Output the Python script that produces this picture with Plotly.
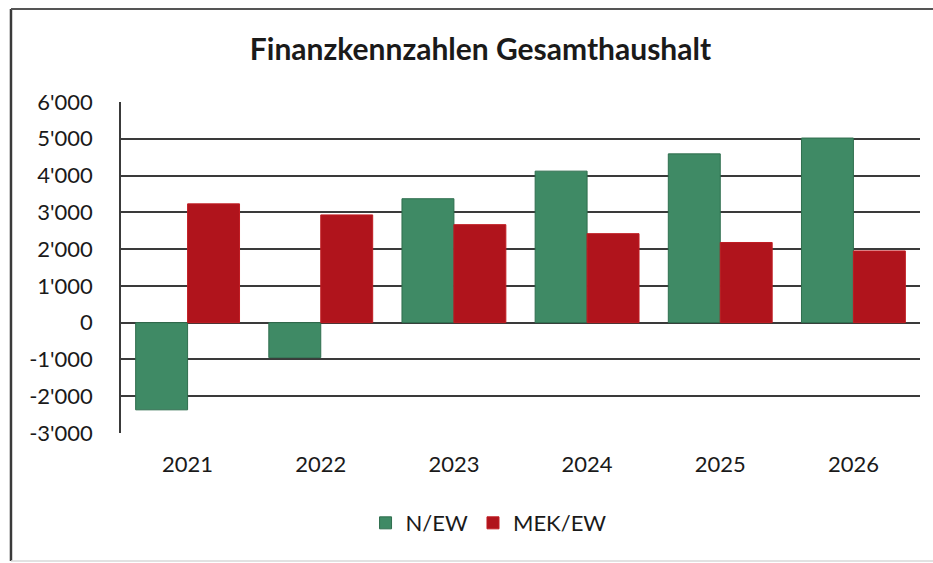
import plotly.graph_objects as go

years = ["2021", "2022", "2023", "2024", "2025", "2026"]
n_ew = [-2370, -950, 3370, 4120, 4590, 5020]
mek_ew = [3230, 2930, 2665, 2420, 2180, 1950]
ytick_vals = [6000, 5000, 4000, 3000, 2000, 1000, 0, -1000, -2000, -3000]
ytick_text = ["6'000", "5'000", "4'000", "3'000", "2'000", "1'000", "0", "-1'000", "-2'000", "-3'000"]

FONT = "Lato"
fig = go.Figure()
fig.add_trace(go.Bar(x=years, y=n_ew, name="N/EW",
                     marker=dict(color="#3f8a65", line=dict(color="#2f6e4e", width=1))))
fig.add_trace(go.Bar(x=years, y=mek_ew, name="MEK/EW",
                     marker=dict(color="#b0141c", line=dict(color="#c01c22", width=1))))

fig.update_layout(
    width=933, height=563,
    margin=dict(l=121, r=13, t=102, b=130),
    paper_bgcolor="white", plot_bgcolor="white",
    barmode="group", bargap=0.22, bargroupgap=0,
    font=dict(family=FONT, color="#1a1a1a"),
    title=dict(text="<b>Finanzkennzahlen Gesamthaushalt</b>", x=0.515, xanchor="center",
               y=0.912, yanchor="middle", font=dict(family=FONT, size=30, color="#1a1a1a")),
    showlegend=True,
    legend=dict(orientation="h", x=0.46, xanchor="center", y=-0.272, yanchor="middle",
                font=dict(family=FONT, size=22), itemwidth=30, traceorder="normal"),
    xaxis=dict(showgrid=False, showline=False, ticks="", tickfont=dict(family=FONT, size=22),
               ticklabelstandoff=16),
    yaxis=dict(range=[-3000, 6000], tickvals=ytick_vals, ticktext=ytick_text,
               showgrid=True, gridcolor="#3a3a3a", gridwidth=1.5, zeroline=True,
               zerolinecolor="#3a3a3a", zerolinewidth=1.5,
               showline=True, linecolor="#3a3a3a", linewidth=1.5,
               ticks="", tickfont=dict(family=FONT, size=22), ticklabelstandoff=22),
    shapes=[
        dict(type="line", xref="paper", yref="paper", x0=-0.1377, x1=-0.1377, y0=-0.387, y1=1.281,
             line=dict(color="#3a3a3a", width=2.5)),
        dict(type="line", xref="paper", yref="paper", x0=-0.1377, x1=1.05, y0=1.281, y1=1.281,
             line=dict(color="#555555", width=2)),
        dict(type="line", xref="paper", yref="paper", x0=-0.1377, x1=1.05, y0=-0.387, y1=-0.387,
             line=dict(color="#d8d8d8", width=1.5)),
    ],
)
fig.write_html("out.html")
